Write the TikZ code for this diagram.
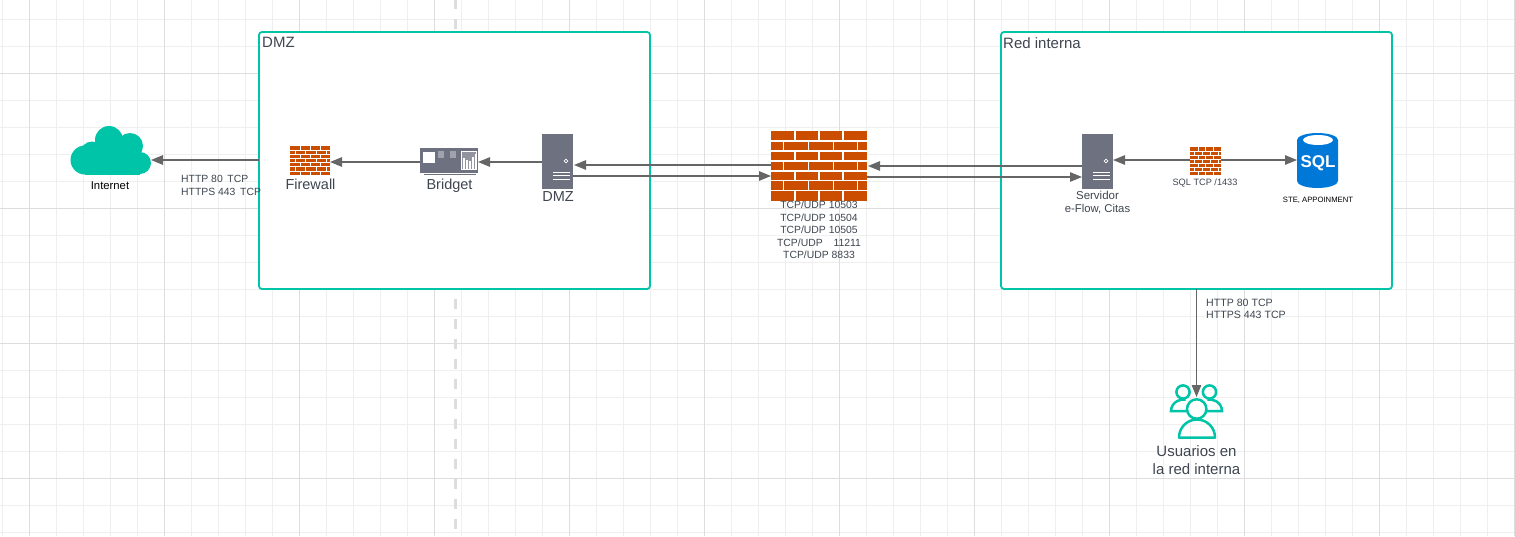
\documentclass[tikz,border=0pt]{standalone}
\usepackage{fontspec}
\setmainfont{Liberation Sans}
\usetikzlibrary{arrows.meta,calc}
\definecolor{teal1}{HTML}{00C4A8}
\definecolor{brick}{HTML}{CB4E00}
\definecolor{srv}{HTML}{6E7280}
\definecolor{conn1}{HTML}{666666}
\definecolor{txt}{HTML}{3F4650}
\definecolor{gridA}{HTML}{EFEFEF}
\definecolor{gridB}{HTML}{DDDDDD}
\definecolor{sqlb}{HTML}{0078D7}
\tikzset{
  zone/.style={draw=teal1,line width=1.8pt,fill=white,rounded corners=3pt,inner sep=0pt,outer sep=0pt,minimum width=391pt,minimum height=257pt},
  icon/.style={inner sep=0pt,outer sep=0pt,minimum width=#1},
  conn/.style={draw=conn1,line width=1.2pt,-{Triangle[length=12pt,width=9.5pt]}},
  big/.style={text=txt,font=\fontsize{14.5}{17}\selectfont,inner sep=0pt},
  mid/.style={text=txt,font=\fontsize{11.5}{14}\selectfont,inner sep=0pt},
  small/.style={text=txt,font=\fontsize{10.5}{12.5}\selectfont,inner sep=0pt},
}
% name, left, top, width, height, gap
\newcommand{\brickwall}[6]{%
  \node[icon=#4 pt,minimum height=#5 pt] (#1) at ({#2+#4/2},{#3+#5/2}) {};
  \begin{scope}[shift={(#2,#3)},x=#4/8*1pt,y=-#5/7*1pt]
    \fill[brick] (0,0) rectangle (8,7);
    \foreach \r in {1,...,6} \draw[white,line width=#6pt] (0,\r) -- (8,\r);
    \foreach \r in {0,2,4,6} \foreach \c in {2,4,6} \draw[white,line width=#6pt] (\c,\r) -- (\c,\r+1);
    \foreach \r in {1,3,5} \foreach \c in {1.03,3.14,5.2,7.2} \draw[white,line width=#6pt] (\c,\r) -- (\c,\r+1);
  \end{scope}}
% name, left
\newcommand{\serverbox}[2]{%
  \node[icon=31pt,minimum height=55pt,fill=srv] (#1) at ({#2+15.5},161.5) {};
  \draw[white,line width=.8pt] ({#2+24},161) circle[radius=1.9];
  \foreach \yy in {172,175.7,179.4} \draw[white,line width=1pt] ({#2+11},\yy) -- ({#2+28},\yy);}
\begin{document}
\begin{tikzpicture}[x=1pt,y=-1pt]
\useasboundingbox (0,0) rectangle (1515,536);
\fill[white] (0,0) rectangle (1515,536);
% grid
\foreach \i in {0,...,56} \draw[gridA,line width=.9pt] ({2.5+27*\i},0) -- ({2.5+27*\i},536);
\foreach \i in {0,...,19} \draw[gridA,line width=.9pt] (0,{19+27*\i}) -- (1515,{19+27*\i});
\foreach \i in {0,...,11} \draw[gridB,line width=.9pt] ({29.5+135*\i},0) -- ({29.5+135*\i},536);
\foreach \i in {0,...,3} \draw[gridB,line width=.9pt] (0,{73+135*\i}) -- (1515,{73+135*\i});
\draw[gridB,line width=3pt,dash pattern=on 10pt off 10pt,dash phase=1pt] (455.5,0) -- (455.5,536);
% zones
\node[zone] (dmzbox) at (454.5,160.5) {};
\node[zone] (redbox) at (1196.5,160.5) {};
\node[anchor=west,text=txt,font=\fontsize{15}{17}\selectfont,inner sep=0pt] (dmztitle) at (262,42.5) {DMZ};
\node[anchor=west,text=txt,font=\fontsize{15}{17}\selectfont,inner sep=0pt] (redtitle) at (1003,43) {Red interna};
% cloud
\node[icon=81pt,minimum height=48pt] (internet) at (110.5,150) {};
\fill[teal1] (85,160) circle[radius=14.5];
\fill[teal1] (92,153) circle[radius=11.5];
\fill[teal1] (109,140) circle[radius=14];
\fill[teal1] (130,146) circle[radius=13];
\fill[teal1] (140,163) circle[radius=11];
\fill[teal1] (100,150) rectangle (135,174);
\fill[teal1] (85,160) rectangle (140,174.5);
\node[text=black,font=\fontsize{11.3}{14}\selectfont,inner sep=0pt] (internetlbl) at (110,186) {Internet};
% firewalls
\brickwall{fwa}{290}{146}{40}{29}{.55}
\brickwall{fwb}{771}{131}{96}{69.5}{1.6}
\brickwall{fwc}{1190}{147}{31}{28}{.5}
\node[big] (fwalbl) at (310.5,184) {Firewall};
% bridget
\node[icon=58pt,minimum height=25pt,fill=srv] (bridget) at (449,160.5) {};
\draw[srv,line width=.8pt] (424,174.3) -- (476,174.3);
\fill[white] (423,152) rectangle (435,163);
\fill[white!35!srv] (438,151) rectangle (444,158);
\fill[white!35!srv] (450,151) rectangle (456,158);
\fill[white!25!srv] (461,151) rectangle (477,169.5);
\draw[white,line width=.8pt] (461.5,151.5) rectangle (476.5,169);
\foreach \xx/\hh in {464/11,467/9,470/8,473/12,475.5/15} \draw[white,line width=1.1pt] (\xx,169) -- (\xx,169-\hh);
\node[big] (bridgetlbl) at (449.5,186) {Bridget};
% servers
\serverbox{srva}{542}
\serverbox{srvb}{1082}
\node[big] (srvalbl) at (558,197) {DMZ};
\node[mid] (srvblbl) at (1097.5,195) {Servidor};
\node[small,font=\fontsize{11.3}{14}\selectfont] (srvblblb) at (1097.5,209) {e-Flow, Citas};
% SQL
\node[icon=41pt,minimum height=55pt] (sql) at (1317.5,160.5) {};
\fill[sqlb] (1297,140) arc[start angle=180,end angle=360,x radius=20.5,y radius=7] -- (1338,181) arc[start angle=0,end angle=180,x radius=20.5,y radius=7] -- cycle;
\fill[white] (1318,140) ellipse[x radius=15,y radius=5];
\node[text=white,font=\fontsize{17}{20}\bfseries\selectfont,inner sep=0pt] (sqltxt) at (1318,163) {SQL};
\node[text=black,font=\fontsize{7.7}{10}\selectfont,inner sep=0pt] (sqllbl) at (1318,200.5) {STE, APPOINMENT};
\node[text=txt,font=\fontsize{9.2}{12}\selectfont,inner sep=0pt] (fwclbl) at (1205,183.5) {SQL TCP /1433};
% users
\node[icon=54pt,minimum height=54pt] (users) at (1196.5,411) {};
\begin{scope}[draw=teal1,line width=2.5pt]
\draw (1183,392) circle[radius=6.6];
\draw (1209.5,392) circle[radius=6.6];
\draw (1186,411) -- (1171,411) arc[start angle=180,end angle=280,x radius=12.5,y radius=11.5];
\draw (1207,411) -- (1222,411) arc[start angle=0,end angle=-100,x radius=12.5,y radius=11.5];
\fill[white] (1196.7,409) circle[radius=10];
\draw (1196.7,409) circle[radius=9.7];
\draw[line join=round] (1179,437.5) arc[start angle=180,end angle=360,x radius=18,y radius=18] -- cycle;
\end{scope}
\node[big,align=center,font=\fontsize{15}{18}\selectfont] (userslbl) at (1196.5,460) {Usuarios en\\la red interna};
% connectors
\draw[conn] (dmzbox.west |- 0,160) -- (internet.east |- 0,160);
\draw[conn] (bridget.west |- 0,162) -- (fwa.east |- 0,162);
\draw[conn] (srva.west |- 0,162) -- (bridget.east |- 0,162);
\draw[conn] (fwb.west |- 0,165) -- ([xshift=1pt]srva.east |- 0,165);
\draw[conn] (srva.east |- 0,176) -- (fwb.west |- 0,176);
\draw[conn] (srvb.west |- 0,166) -- ([xshift=1pt]fwb.east |- 0,166);
\draw[conn] (fwb.east |- 0,177) -- (srvb.west |- 0,177);
\draw[conn] (fwc.west |- 0,160) -- (srvb.east |- 0,160);
\draw[conn] (fwc.east |- 0,160) -- (sql.west |- 0,160);
\draw[conn] (redbox.south -| users.north) -- ([yshift=-13pt]users.north);
% protocol labels
\node[small,align=left,anchor=north west,font=\fontsize{10.4}{12.8}\selectfont] (httpa) at (181,175) {HTTP 80 \,TCP\\HTTPS 443 \,TCP};
\node[small,align=left,anchor=north west,font=\fontsize{10.6}{12}\selectfont] (httpb) at (1206,299) {HTTP 80 TCP\\HTTPS 443 TCP};
\node[small,align=center,font=\fontsize{10.4}{12.6}\selectfont] (tcpudp) at (819,230) {TCP/UDP 10503\\TCP/UDP 10504\\TCP/UDP 10505\\TCP/UDP \hspace{5pt} 11211\\TCP/UDP 8833};
\end{tikzpicture}
\end{document}
